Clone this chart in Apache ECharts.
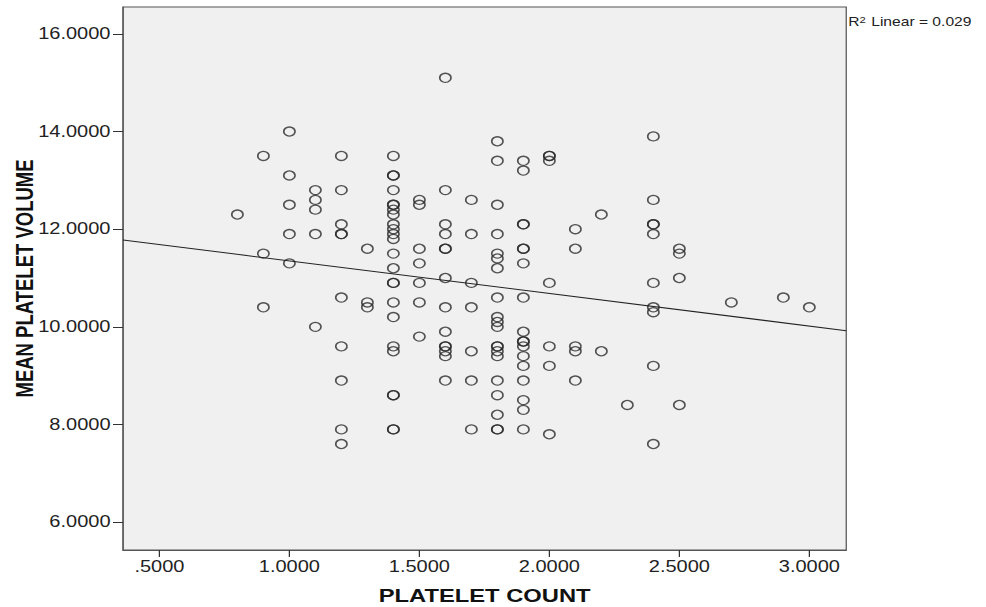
<!DOCTYPE html>
<html>
<head>
<meta charset="utf-8">
<script src="https://cdn.jsdelivr.net/npm/echarts@6/dist/echarts.min.js"></script>
<style>
  html, body { margin: 0; padding: 0; background: #fff; overflow: hidden; }
  /* the reference is an SPSS plot stretched sideways, so the chart is drawn narrow and widened */
  #chart { width: 789px; height: 607px; transform: scaleX(1.25); transform-origin: 0 0; }
</style>
</head>
<body>
<div id="chart"></div>
<script>
// values, one pair per point
const plateletCount = [
    0.8,
    0.9, 0.9, 0.9,
    1.0, 1.0, 1.0, 1.0, 1.0,
    1.1, 1.1, 1.1, 1.1, 1.1,
    1.2, 1.2, 1.2, 1.2, 1.2, 1.2, 1.2, 1.2, 1.2, 1.2,
    1.3, 1.3, 1.3,
    1.4, 1.4, 1.4, 1.4, 1.4, 1.4, 1.4, 1.4, 1.4, 1.4, 1.4, 1.4, 1.4, 1.4, 1.4, 1.4, 1.4, 1.4, 1.4, 1.4, 1.4, 1.4, 1.4, 1.4,
    1.5, 1.5, 1.5, 1.5, 1.5, 1.5, 1.5,
    1.6, 1.6, 1.6, 1.6, 1.6, 1.6, 1.6, 1.6, 1.6, 1.6, 1.6, 1.6, 1.6, 1.6,
    1.7, 1.7, 1.7, 1.7, 1.7, 1.7, 1.7,
    1.8, 1.8, 1.8, 1.8, 1.8, 1.8, 1.8, 1.8, 1.8, 1.8, 1.8, 1.8, 1.8, 1.8, 1.8, 1.8, 1.8, 1.8, 1.8, 1.8,
    1.9, 1.9, 1.9, 1.9, 1.9, 1.9, 1.9, 1.9, 1.9, 1.9, 1.9, 1.9, 1.9, 1.9, 1.9, 1.9, 1.9, 1.9,
    2.0, 2.0, 2.0, 2.0, 2.0, 2.0, 2.0,
    2.1, 2.1, 2.1, 2.1, 2.1,
    2.2, 2.2,
    2.3,
    2.4, 2.4, 2.4, 2.4, 2.4, 2.4, 2.4, 2.4, 2.4, 2.4,
    2.5, 2.5, 2.5, 2.5,
    2.7,
    2.9,
    3.0
];
const meanPlateletVolume = [
    12.3,
    13.5, 11.5, 10.4,
    14.0, 13.1, 12.5, 11.9, 11.3,
    12.8, 12.6, 12.4, 11.9, 10.0,
    13.5, 12.8, 12.1, 11.9, 11.9, 10.6, 9.6, 8.9, 7.9, 7.6,
    11.6, 10.5, 10.4,
    13.5, 13.1, 13.1, 12.8, 12.5, 12.5, 12.4, 12.3, 12.1, 12.0, 11.9, 11.8, 11.5, 11.2, 10.9, 10.9, 10.5, 10.2, 9.6, 9.5, 8.6, 8.6, 7.9, 7.9,
    12.6, 12.5, 11.6, 11.3, 10.9, 10.5, 9.8,
    15.1, 12.8, 12.1, 11.9, 11.6, 11.6, 11.0, 10.4, 9.9, 9.6, 9.6, 9.5, 9.4, 8.9,
    12.6, 11.9, 10.9, 10.4, 9.5, 8.9, 7.9,
    13.8, 13.4, 12.5, 11.9, 11.5, 11.4, 11.2, 10.6, 10.2, 10.1, 10.0, 9.6, 9.6, 9.5, 9.4, 8.9, 8.6, 8.2, 7.9, 7.9,
    13.4, 13.2, 12.1, 12.1, 11.6, 11.6, 11.3, 10.6, 9.9, 9.7, 9.7, 9.6, 9.4, 9.2, 8.9, 8.5, 8.3, 7.9,
    13.5, 13.5, 13.4, 10.9, 9.6, 9.2, 7.8,
    12.0, 11.6, 9.6, 9.5, 8.9,
    12.3, 9.5,
    8.4,
    13.9, 12.6, 12.1, 12.1, 11.9, 10.9, 10.4, 10.3, 9.2, 7.6,
    11.6, 11.5, 11.0, 8.4,
    10.5,
    10.6,
    10.4
];

const xTicks = [0.5, 1.0, 1.5, 2.0, 2.5, 3.0];
const yTicks = [6, 8, 10, 12, 14, 16];

// fit line
const fitIntercept = 12.02;
const fitSlope = -0.668;
const rSquared = '0.029';

const xMin = 0.36, xMax = 3.142;
const yMin = 5.43, yMax = 16.55;

const points = plateletCount.map((x, i) => [x, meanPlateletVolume[i]]);
const fitLine = [xMin, xMax].map(x => [x, fitIntercept + fitSlope * x]);

const axisColor = '#555';
const textFont = '"Liberation Sans", Arial, sans-serif';

function fmt(v) {
    let s = v.toFixed(4);
    if (s.startsWith('0.')) s = s.slice(1);
    return s;
}

const chart = echarts.init(document.getElementById('chart'), null, { renderer: 'svg' });

chart.setOption({
    animation: false,
    backgroundColor: '#fff',
    grid: {
        left: 98.4, top: 7, right: 112, bottom: 57,
        outerBoundsMode: 'none',
        show: true,
        backgroundColor: '#f0f0f0',
        borderColor: axisColor,
        borderWidth: 1
    },
    graphic: [{
        type: 'text',
        left: 678.5,
        top: 15,
        style: {
            text: 'R{sup|2} Linear = ' + rSquared,
            font: '12.5px ' + textFont,
            fill: '#222',
            rich: {
                sup: { fontSize: 9, verticalAlign: 'top', padding: [0, 1, 5, 0], fill: '#222', fontFamily: textFont }
            }
        }
    }],
    xAxis: {
        type: 'value',
        min: xMin,
        max: xMax,
        name: 'PLATELET COUNT',
        nameLocation: 'middle',
        nameGap: 36,
        nameMoveOverlap: false,
        nameTextStyle: { fontFamily: textFont, fontWeight: 'bold', fontSize: 19, color: '#111' },
        splitLine: { show: false },
        axisLine: { show: true, lineStyle: { color: axisColor } },
        axisTick: { show: true, length: 7, customValues: xTicks, lineStyle: { color: '#333' } },
        axisLabel: {
            customValues: xTicks,
            formatter: fmt,
            color: '#222',
            fontFamily: textFont,
            fontSize: 16,
            margin: 9
        }
    },
    yAxis: {
        type: 'value',
        min: yMin,
        max: yMax,
        name: 'MEAN PLATELET VOLUME',
        nameLocation: 'middle',
        nameGap: 69,
        nameMoveOverlap: false,
        nameTextStyle: { fontFamily: textFont, fontWeight: 'bold', fontSize: 18.5, color: '#111' },
        splitLine: { show: false },
        axisLine: { show: true, lineStyle: { color: axisColor } },
        axisTick: { show: true, length: 8, customValues: yTicks, lineStyle: { color: '#333' } },
        axisLabel: {
            customValues: yTicks,
            formatter: fmt,
            color: '#222',
            fontFamily: textFont,
            fontSize: 16,
            margin: 10
        }
    },
    series: [
        {
            name: 'Points',
            type: 'scatter',
            data: points,
            symbol: 'circle',
            symbolSize: 9,
            itemStyle: { color: 'rgba(0,0,0,0)', borderColor: '#2a2a2a', borderWidth: 1.3 },
            silent: true
        },
        {
            name: 'Linear',
            type: 'line',
            data: fitLine,
            showSymbol: false,
            lineStyle: { color: '#222', width: 1 },
            silent: true
        }
    ]
});
</script>
</body>
</html>
